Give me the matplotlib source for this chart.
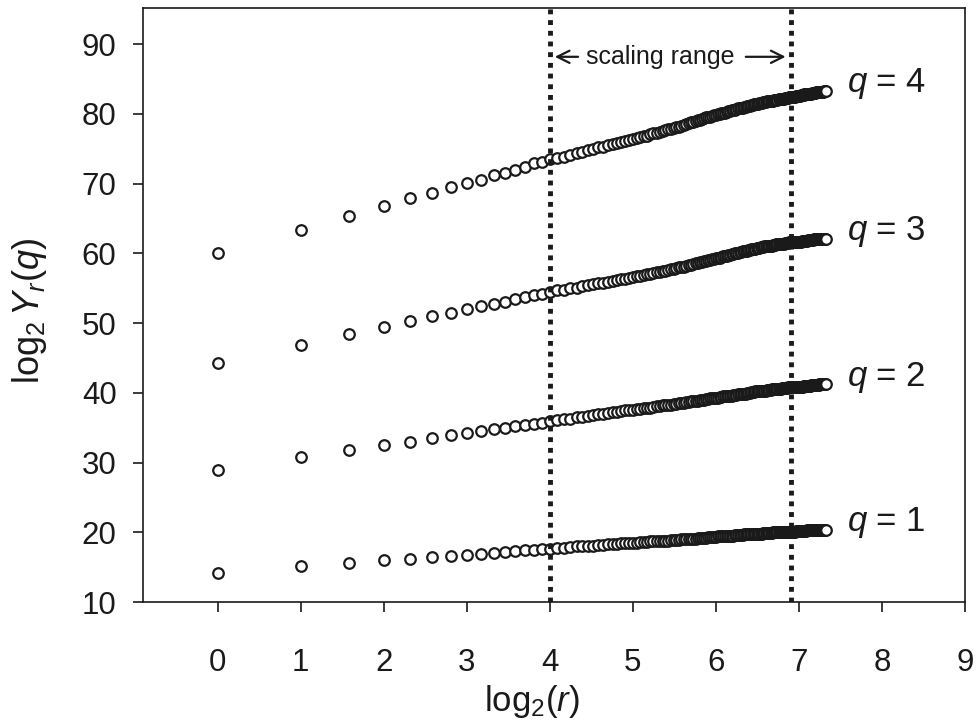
import numpy as np
import matplotlib
matplotlib.use("Agg")
import matplotlib.pyplot as plt

plt.rcParams['font.family'] = ['Liberation Sans', 'DejaVu Sans']
plt.rcParams['mathtext.fontset'] = 'custom'
plt.rcParams['mathtext.rm'] = 'Liberation Sans'
plt.rcParams['mathtext.it'] = 'Liberation Sans:italic'

# scale r = 1..160, plotted as log2(r)
r_values = list(range(1, 161))

y_q1 = [14.2, 15.1, 15.6, 16.0, 16.2, 16.45, 16.6, 16.8, 16.9, 17.1, 17.2, 17.3, 17.4, 17.5, 17.55, 17.65,
        17.8, 17.8, 17.9, 18.0, 18.0, 18.1, 18.1, 18.2, 18.2, 18.3, 18.3, 18.3, 18.4, 18.4, 18.5, 18.5,
        18.5, 18.6, 18.6, 18.6, 18.7, 18.7, 18.7, 18.8, 18.8, 18.8, 18.8, 18.9, 18.9, 18.9, 18.9,
        19.0, 19.0, 19.0, 19.1, 19.1, 19.1, 19.1, 19.2, 19.2, 19.2, 19.2, 19.2, 19.3, 19.3, 19.3, 19.3, 19.35,
        19.4, 19.4, 19.4, 19.4, 19.4, 19.5, 19.5, 19.5, 19.5, 19.5, 19.6, 19.6, 19.6, 19.6, 19.6, 19.6,
        19.7, 19.7, 19.7, 19.7, 19.7, 19.7, 19.8, 19.8, 19.8, 19.8,
        19.8, 19.8, 19.8, 19.8, 19.9, 19.9, 19.9, 19.9, 19.9, 19.9,
        19.9, 19.9, 20.0, 20.0, 20.0, 20.0, 20.0, 20.0, 20.0, 20.0,
        20.0, 20.1, 20.1, 20.1, 20.1, 20.1, 20.1, 20.1, 20.1, 20.1,
        20.1, 20.1, 20.1, 20.1, 20.2, 20.2, 20.2, 20.2, 20.2, 20.2,
        20.2, 20.2, 20.2, 20.2, 20.2, 20.2, 20.3, 20.3, 20.3, 20.3,
        20.3, 20.3, 20.3, 20.3, 20.3, 20.3, 20.3, 20.3, 20.3, 20.4,
        20.4, 20.4, 20.4, 20.4, 20.4, 20.4, 20.4, 20.4, 20.4, 20.4]

y_q2 = [29.0, 30.8, 31.8, 32.5, 33.0, 33.5, 33.9, 34.2, 34.5, 34.8, 35.0, 35.2, 35.4, 35.5, 35.7, 35.9,
        36.1, 36.2, 36.3, 36.5, 36.6, 36.7, 36.8, 36.9, 37.0, 37.1, 37.2, 37.3, 37.4, 37.5, 37.5, 37.6,
        37.7, 37.7, 37.8, 37.9, 37.9, 38.0, 38.1, 38.1, 38.2, 38.2, 38.3, 38.3, 38.4,
        38.4, 38.5, 38.6, 38.6, 38.7, 38.7, 38.8, 38.8, 38.9, 38.9, 39.0, 39.0, 39.0, 39.1, 39.1,
        39.2, 39.2, 39.3, 39.3,
        39.3, 39.4, 39.4, 39.5, 39.5, 39.5, 39.6, 39.6, 39.6, 39.7, 39.7, 39.7, 39.8, 39.8, 39.8, 39.9,
        39.9, 39.9, 40.0, 40.0, 40.0, 40.1, 40.1, 40.1, 40.2, 40.2,
        40.2, 40.2, 40.3, 40.3, 40.3, 40.3, 40.3, 40.4, 40.4, 40.4,
        40.4, 40.5, 40.5, 40.5, 40.5, 40.6, 40.6, 40.6, 40.6, 40.6,
        40.7, 40.7, 40.7, 40.7, 40.7, 40.7, 40.8, 40.8, 40.8, 40.8,
        40.8, 40.8, 40.8, 40.8, 40.9, 40.9, 40.9, 40.9, 40.9, 40.9,
        40.9, 40.9, 41.0, 41.0, 41.0, 41.0, 41.0, 41.0, 41.0, 41.0,
        41.0, 41.1, 41.1, 41.1, 41.1, 41.1, 41.1, 41.1, 41.1, 41.1,
        41.1, 41.2, 41.2, 41.2, 41.2, 41.2, 41.2, 41.2, 41.2, 41.2]

y_q3 = [44.3, 46.9, 48.5, 49.5, 50.3, 51.0, 51.5, 52.0, 52.4, 52.8, 53.1, 53.4, 53.7, 54.0, 54.2, 54.5,
        54.7, 54.8, 55.0, 55.1, 55.3, 55.4, 55.6, 55.7, 55.8, 55.9, 56.0, 56.2, 56.3, 56.4, 56.5, 56.6,
        56.7, 56.8, 56.9, 57.0, 57.1, 57.2, 57.3, 57.4, 57.5, 57.5, 57.6, 57.7, 57.8,
        57.9, 58.0, 58.1, 58.1, 58.2, 58.3, 58.4, 58.5, 58.6, 58.6, 58.7, 58.8, 58.9, 58.9, 59.0,
        59.1, 59.2, 59.2, 59.3,
        59.4, 59.4, 59.5, 59.6, 59.6, 59.7, 59.8, 59.8, 59.9, 59.9, 60.0, 60.0, 60.1, 60.2, 60.2, 60.3,
        60.3, 60.4, 60.4, 60.5, 60.5, 60.6, 60.6, 60.7, 60.7, 60.8,
        60.8, 60.8, 60.9, 60.9, 60.9, 61.0, 61.0, 61.0, 61.1, 61.1,
        61.1, 61.1, 61.2, 61.2, 61.2, 61.3, 61.3, 61.3, 61.3, 61.4,
        61.4, 61.4, 61.4, 61.5, 61.5, 61.5, 61.5, 61.6, 61.6, 61.6,
        61.6, 61.6, 61.6, 61.7, 61.7, 61.7, 61.7, 61.7,
        61.7, 61.7, 61.8, 61.8, 61.8, 61.8, 61.8, 61.8,
        61.8, 61.9, 61.9, 61.9, 61.9, 61.9, 61.9, 61.9,
        62.0, 62.0, 62.0, 62.0, 62.0, 62.0, 62.0, 62.0,
        62.0, 62.1, 62.1, 62.1, 62.1, 62.1, 62.1, 62.1]

y_q4 = [60.0, 63.4, 65.4, 66.8, 67.9, 68.7, 69.5, 70.1, 70.6, 71.2, 71.6, 72.0, 72.4, 72.9, 73.1, 73.5,
        73.7, 73.9, 74.1, 74.4, 74.6, 74.8, 75.0, 75.2, 75.3, 75.5, 75.7, 75.8, 76.0, 76.1, 76.3, 76.4,
        76.5, 76.7, 76.8, 76.9, 77.1, 77.2, 77.3, 77.4, 77.5, 77.7, 77.8, 77.9, 78.0,
        78.1, 78.2, 78.3, 78.4, 78.5, 78.7, 78.8, 78.9, 79.0, 79.1, 79.2, 79.3, 79.4, 79.5, 79.6,
        79.6, 79.7, 79.8, 79.9,
        80.0, 80.0, 80.1, 80.2, 80.2, 80.3, 80.4, 80.4, 80.5, 80.6, 80.6, 80.7, 80.8, 80.8, 80.9, 80.9,
        81.0, 81.0, 81.1, 81.2, 81.2, 81.3, 81.3, 81.4, 81.4, 81.5,
        81.5, 81.6, 81.6, 81.6, 81.7, 81.7, 81.7, 81.8, 81.8, 81.8,
        81.9, 81.9, 81.9, 82.0, 82.0, 82.0, 82.0, 82.1, 82.1, 82.1,
        82.2, 82.2, 82.2, 82.3, 82.3, 82.3, 82.3, 82.4, 82.4, 82.4,
        82.4, 82.5, 82.5, 82.5, 82.6, 82.6, 82.6, 82.6,
        82.6, 82.7, 82.7, 82.7, 82.7, 82.8, 82.8, 82.8,
        82.8, 82.9, 82.9, 82.9, 82.9, 82.9, 83.0, 83.0,
        83.0, 83.0, 83.0, 83.1, 83.1, 83.1, 83.1, 83.1,
        83.2, 83.2, 83.2, 83.2, 83.2, 83.3, 83.3, 83.3]

series = [y_q1, y_q2, y_q3, y_q4]
series_labels = ['1', '2', '3', '4']
scaling_range = [4.0, 6.9]
x_ticks = list(range(0, 10))
y_ticks = list(range(10, 100, 10))

x = np.log2(np.array(r_values, dtype=float))

fig = plt.figure(figsize=(9.76, 7.27), dpi=100)
ax = fig.add_axes([0.1465, 0.1719, 0.8422, 0.8171])

ink = '#1a1a1a'
for ys, lab in zip(series, series_labels):
    ax.plot(x, ys, linestyle='none', marker='o', markersize=7.6,
            markerfacecolor='white', markeredgecolor=ink, markeredgewidth=1.6, zorder=3)
    ax.text(7.58, ys[-1] + 1.0, r'$\mathit{q}$ = ' + lab, fontsize=25,
            ha='left', va='center', color=ink)

for xv in scaling_range:
    ax.axvline(xv, color=ink, linewidth=3.5, linestyle=(0, (1, 1.2)),
               dash_capstyle='butt', zorder=4)

# "scaling range" label with arrows pointing to the two bounds
y_lab = 88.2
ax.text(5.33, y_lab, 'scaling range', fontsize=18, ha='center', va='center', color=ink)
ax.annotate('', xy=(scaling_range[0] + 0.06, y_lab), xytext=(4.34, y_lab),
            arrowprops=dict(arrowstyle='->', color=ink, lw=1.6, mutation_scale=22,
                            shrinkA=0, shrinkB=0))
ax.annotate('', xy=(scaling_range[1] - 0.06, y_lab), xytext=(6.36, y_lab),
            arrowprops=dict(arrowstyle='->', color=ink, lw=1.6, mutation_scale=22,
                            shrinkA=0, shrinkB=0))

ax.set_xlim(-0.9, 9.0)
ax.set_ylim(10, 95.2)
ax.set_xticks(x_ticks)
ax.set_yticks(y_ticks)
ax.tick_params(axis='both', direction='out', length=7, width=1.2, colors=ink,
               labelsize=22.5, labelcolor=ink)
ax.tick_params(axis='x', pad=26)
ax.tick_params(axis='y', pad=12)
for s in ax.spines.values():
    s.set_linewidth(1.2)
    s.set_color(ink)

ax.set_xlabel(r'$\mathrm{log}_2(\mathit{r})$', fontsize=25, color=ink)
ax.xaxis.set_label_coords(0.473, -0.137)
ax.set_ylabel(r'$\mathrm{log}_2\,\mathit{Y_r}(\mathit{q})$', fontsize=26, color=ink)
ax.yaxis.set_label_coords(-0.114, 0.49)

fig.savefig('out.png', dpi=100)
